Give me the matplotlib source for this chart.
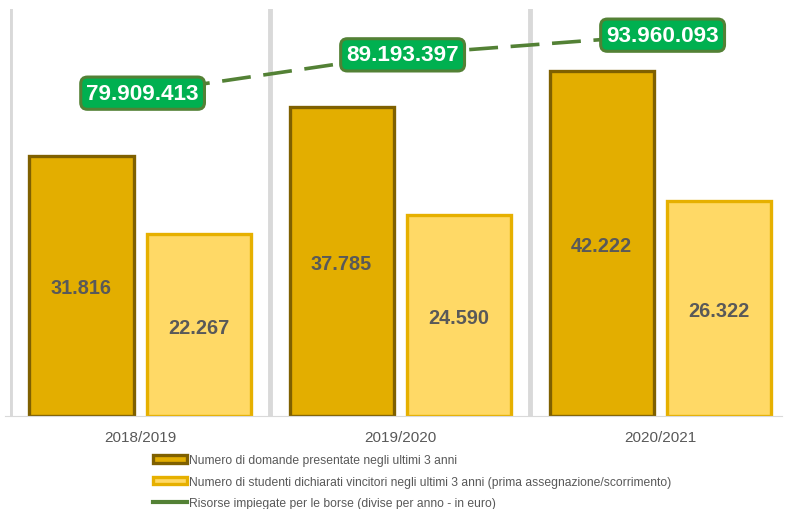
import matplotlib.pyplot as plt
from matplotlib.patches import Patch
from matplotlib.lines import Line2D
import numpy as np

plt.rcParams['font.family'] = ['Liberation Sans', 'DejaVu Sans']

# dati
anni = ["2018/2019", "2019/2020", "2020/2021"]
domande = [31816, 37785, 42222]
vincitori = [22267, 24590, 26322]
risorse = [79909413, 89193397, 93960093]
etichette_domande = ["31.816", "37.785", "42.222"]
etichette_vincitori = ["22.267", "24.590", "26.322"]
etichette_risorse = ["79.909.413", "89.193.397", "93.960.093"]

legenda = [
    "Numero di domande presentate negli ultimi 3 anni",
    "Numero di studenti dichiarati vincitori negli ultimi 3 anni (prima assegnazione/scorrimento)",
    "Risorse impiegate per le borse (divise per anno - in euro)",
]

grigio = "#595959"
oro = "#E3AE00"
oro_bordo = "#7F6000"
giallo = "#FFD966"
giallo_bordo = "#E6B000"
verde = "#00B050"
verde_linea = "#538135"

fig = plt.figure(figsize=(7.88, 5.10), dpi=100)
ax = fig.add_axes([10 / 788, 93 / 510, 780 / 788, 407 / 510])
x = np.arange(len(anni))

# separatori verticali
for b in [-0.5, 0.5, 1.5, 2.5]:
    ax.axvline(b, color="#D9D9D9", lw=3.5, zorder=0)

w = 0.4
ax.bar(x - 0.225, domande, w, color=oro, edgecolor=oro_bordo, linewidth=2.4, zorder=2)
ax.bar(x + 0.225, vincitori, w, color=giallo, edgecolor=giallo_bordo, linewidth=2.4, zorder=2)

for i in range(len(anni)):
    ax.text(x[i] - 0.225, domande[i] / 2, etichette_domande[i], ha="center", va="center_baseline",
            fontsize=14.3, fontweight="bold", color=grigio)
    ax.text(x[i] + 0.225, vincitori[i] / 2, etichette_vincitori[i], ha="center", va="center_baseline",
            fontsize=14.3, fontweight="bold", color=grigio)

ax.set_xlim(-0.5, 2.5)
ax.set_ylim(0, 49800)
ax.set_yticks([])
ax.set_xticks(x)
ax.set_xticklabels(anni, fontsize=11, color=grigio)
ax.tick_params(axis="x", length=0, pad=10)
for s in ["top", "left", "right"]:
    ax.spines[s].set_visible(False)
ax.spines["bottom"].set_color("#D9D9D9")
ax.spines["bottom"].set_bounds(-0.52, 2.47)

ax2 = ax.twinx()
ax2.set_ylim(1.7e6, 100.3e6)
ax2.plot(x, risorse, color=verde_linea, lw=2.6, dashes=(8, 3.5), zorder=3)
for i in range(len(anni)):
    ax2.text(x[i] + 0.01, risorse[i], etichette_risorse[i], ha="center", va="center",
             fontsize=16.2, fontweight="bold", color="white",
             bbox=dict(boxstyle="round,pad=0.25,rounding_size=0.3", fc=verde,
                       ec=verde_linea, lw=2.2), zorder=4)
ax2.set_yticks([])
for s in ax2.spines.values():
    s.set_visible(False)

handles = [
    Patch(facecolor=oro, edgecolor=oro_bordo, linewidth=2.4),
    Patch(facecolor=giallo, edgecolor=giallo_bordo, linewidth=2.4),
    Line2D([0], [0], color=verde_linea, lw=3),
]
fig.legend(handles, legenda, loc="upper left", bbox_to_anchor=(153 / 788, 1 - 455 / 510),
           frameon=False, fontsize=8.7, labelcolor=grigio, handlelength=2.8,
           handleheight=0.6, handletextpad=0.2, labelspacing=0.8, borderpad=0,
           borderaxespad=0)

fig.savefig("out.png", dpi=100)
